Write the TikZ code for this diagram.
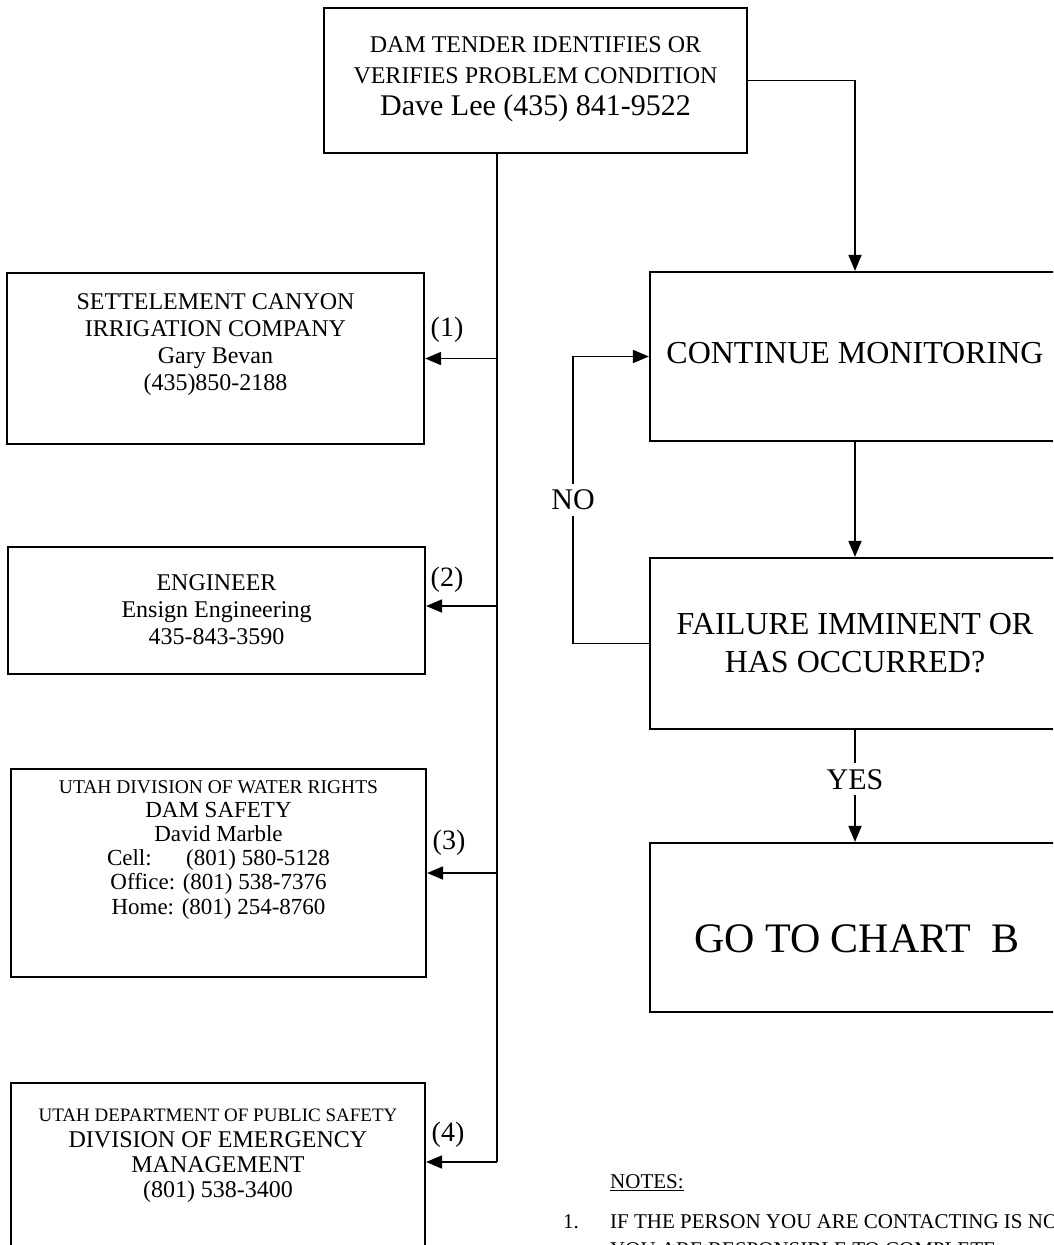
\documentclass[tikz,border=0pt]{standalone}
\usepackage{fontspec}
\setmainfont{Liberation Serif}
\usetikzlibrary{arrows.meta}
\begin{document}
\begin{tikzpicture}[x=1pt,y=-1pt,
  box/.style={draw, line width=2.2pt, rectangle, inner sep=0pt},
  conn/.style={line width=1.8pt},
  arr/.style={conn, -{Triangle[length=16pt,width=13pt]}},
  txt/.style={align=center, inner sep=0pt},
  lbl/.style={fill=white, inner xsep=2pt, inner ysep=6pt, font=\fontsize{30}{34}\selectfont},
  num/.style={inner sep=0pt, font=\fontsize{28}{32}\selectfont},
  note/.style={anchor=base west, inner sep=0pt, font=\fontsize{21}{24}\selectfont}]
\useasboundingbox (0,0) rectangle (1053,1245);
\clip (0,0) rectangle (1053,1245);

% top box
\node[box, minimum width=423pt, minimum height=145pt] (b0) at (535.5,80.5) {};
\node[txt, font=\fontsize{24}{31}\selectfont] (t0) at (535.5,79) {DAM TENDER IDENTIFIES OR\\VERIFIES PROBLEM CONDITION\\[1pt]{\fontsize{30}{35}\selectfont Dave Lee (435) 841-9522}};

% left boxes
\node[box, minimum width=417pt, minimum height=171pt] (b1) at (215.5,358.5) {};
\node[txt, font=\fontsize{24}{27}\selectfont] (t1) at (215.5,345) {SETTELEMENT CANYON\\IRRIGATION COMPANY\\Gary Bevan\\(435)850-2188};

\node[box, minimum width=417pt, minimum height=127pt] (b2) at (216.5,610.5) {};
\node[txt, font=\fontsize{24}{27}\selectfont] (t2) at (216.5,610) {ENGINEER\\Ensign Engineering\\435-843-3590};

\node[box, minimum width=415pt, minimum height=208pt] (b3) at (218.5,873) {};
\node[txt, font=\fontsize{23}{24.2}\selectfont] (t3) at (218.5,849.5) {{\fontsize{19.5}{22}\selectfont UTAH DIVISION OF WATER RIGHTS}\\DAM SAFETY\\David Marble\\Cell:\hspace{1.5em}(801) 580-5128\\Office: (801) 538-7376\\Home: (801) 254-8760};

\node[box, minimum width=414pt, minimum height=207pt] (b4) at (218,1186.5) {};
\node[txt, font=\fontsize{24}{25.3}\selectfont] (t4) at (218,1156) {{\fontsize{19}{22}\selectfont UTAH DEPARTMENT OF PUBLIC SAFETY}\\DIVISION OF EMERGENCY\\MANAGEMENT\\(801) 538-3400};

% right boxes
\node[box, minimum width=410pt, minimum height=169pt] (c1) at (855,356.5) {};
\node[txt, font=\fontsize{32}{38}\selectfont] (tc1) at (855,353) {CONTINUE MONITORING};

\node[box, minimum width=410pt, minimum height=171pt] (c2) at (855,643.5) {};
\node[txt, font=\fontsize{32}{38}\selectfont] (tc2) at (855,643) {FAILURE IMMINENT OR\\HAS OCCURRED?};

\node[box, minimum width=410pt, minimum height=169pt] (c3) at (855,927.5) {};
\node[txt, font=\fontsize{42}{48}\selectfont] (tc3) at (857,939) {GO TO CHART\ \ B};

% trunk and branches
\coordinate (j1) at (497,358.5);
\coordinate (j2) at (497,606);
\coordinate (j3) at (497,873);
\coordinate (j4) at (497,1162);
\draw[conn] (b0.south -| j4) -- (j4);
\draw[arr] (j1) -- (j1 -| b1.east);
\draw[arr] (j2) -- (j2 -| b2.east);
\draw[arr] (j3) -- (j3 -| b3.east);
\draw[arr] (j4) -- (j4 -| b4.east);

\node[num] (l1) at (447,330) {(1)};
\node[num] (l2) at (447,580) {(2)};
\node[num] (l3) at (449,843) {(3)};
\node[num] (l4) at (448,1135) {(4)};

% right flow
\draw[arr] (b0.east) -| (c1.north);
\draw[arr] (c1.south) -- (c2.north);
\draw[arr] (c2.south) -- node[lbl, pos=0.44] (yes) {YES} (c3.north);
\coordinate (nx) at (573,0);
\draw[arr] (c2.west) -- (c2.west -| nx) -- node[lbl, pos=0.5] (no) {NO} (c1.west -| nx) -- (c1.west);

% notes
\node[note] (notes) at (610,1188) {\underline{NOTES:}};
\node[note] (n1) at (563,1228) {1.};
\node[note] (n1a) at (610,1228) {IF THE PERSON YOU ARE CONTACTING IS NOT};
\node[note] (n1b) at (610,1256) {YOU ARE RESPONSIBLE TO COMPLETE};
\end{tikzpicture}
\end{document}
